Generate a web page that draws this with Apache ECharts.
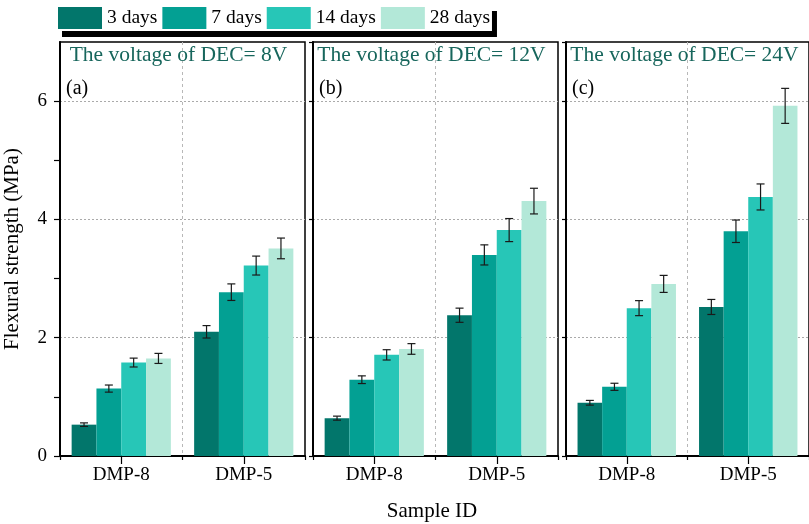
<!DOCTYPE html>
<html>
<head>
<meta charset="utf-8">
<script src="https://cdn.jsdelivr.net/npm/echarts@6/dist/echarts.min.js"></script>
<style>
  html, body { margin: 0; padding: 0; background: #fff; }
  #chart { width: 809px; height: 524px; }
</style>
</head>
<body>
<div id="chart"></div>
<script>
// Sample groups on the x axis
const categories = ['DMP-8', 'DMP-5'];
// Curing ages (one bar series each)
const ageNames = ['3 days', '7 days', '14 days', '28 days'];
const ageColors = ['#02766B', '#03A093', '#27C6B7', '#B3E8D8'];
// Panels: DEC voltage
const panelTitles = ['The voltage of DEC= 8V', 'The voltage of DEC= 12V', 'The voltage of DEC= 24V'];
const panelTags = ['(a)', '(b)', '(c)'];
const yTicks = [0, 2, 4, 6];

// Mean flexural strength (MPa), per panel: [DMP-8, DMP-5]
const mean3d  = [[0.53, 2.10], [0.64, 2.38], [0.90, 2.52]];
const mean7d  = [[1.14, 2.77], [1.29, 3.40], [1.17, 3.80]];
const mean14d = [[1.58, 3.22], [1.71, 3.82], [2.50, 4.38]];
const mean28d = [[1.65, 3.51], [1.81, 4.31], [2.91, 5.92]];

// Standard deviation (MPa), per panel: [DMP-8, DMP-5]
const err3d  = [[0.03, 0.105], [0.034, 0.12], [0.04, 0.127]];
const err7d  = [[0.06, 0.14],  [0.065, 0.17], [0.06, 0.19]];
const err14d = [[0.075, 0.16], [0.087, 0.195], [0.127, 0.22]];
const err28d = [[0.085, 0.175], [0.09, 0.217], [0.144, 0.296]];

const means = [mean3d, mean7d, mean14d, mean28d];
const errs = [err3d, err7d, err14d, err28d];

const FONT = 'Liberation Serif';
const panelLeft = [60, 313, 566];
const panelTop = 42;
const panelW = 245;
const panelH = 414;
const catGap = 0.19;
const NONE = 'rgba(0,0,0,0)';

const grids = [], xAxes = [], yAxes = [], series = [], titles = [], graphics = [];

panelLeft.forEach((left, p) => {
  grids.push({
    left: left, top: panelTop, width: panelW, height: panelH,
    show: true, borderColor: '#000', borderWidth: 1.5, backgroundColor: 'transparent'
  });
  // main category axis: labels, boundary ticks, dashed separator between groups
  xAxes.push({
    type: 'category', gridIndex: p, data: categories, position: 'bottom',
    axisLine: { lineStyle: { color: '#000', width: 2 } },
    axisTick: { show: true, length: 4, lineStyle: { color: '#000', width: 1.2 } },
    axisLabel: { color: '#000', fontFamily: FONT, fontSize: 19, margin: 10 },
    splitLine: { show: true, lineStyle: { color: [NONE, '#b8b8b8'], type: [3, 3], width: 1 } }
  });
  // centre ticks under each group
  xAxes.push({
    type: 'category', gridIndex: p, data: categories, position: 'bottom',
    axisLine: { show: false },
    axisTick: { show: true, alignWithLabel: true, length: 8, lineStyle: { color: '#000', width: 1.2 } },
    axisLabel: { show: false },
    splitLine: { show: false }
  });
  const isFirst = p === 0;
  yAxes.push({
    type: 'value', gridIndex: p, min: 0, max: 7, interval: isFirst ? 1 : 2,
    name: isFirst ? 'Flexural strength (MPa)' : '',
    nameLocation: 'middle', nameGap: 37,
    nameTextStyle: { color: '#000', fontFamily: FONT, fontSize: 21 },
    axisLine: { show: true, lineStyle: { color: '#000', width: 2 } },
    axisTick: { show: true, length: isFirst ? 6 : 4, lineStyle: { color: '#000', width: 1.2 } },
    axisLabel: {
      show: isFirst, showMaxLabel: false, color: '#000', fontFamily: FONT, fontSize: 19, margin: 13,
      formatter: v => (yTicks.indexOf(v) >= 0 ? String(v) : '')
    },
    splitLine: {
      show: true,
      lineStyle: {
        color: isFirst ? ['#aaaaaa', NONE] : ['#aaaaaa', '#aaaaaa', '#aaaaaa', '#aaaaaa', NONE],
        type: [2, 2], width: 1
      }
    }
  });

  ageNames.forEach((name, d) => {
    series.push({
      type: 'bar', name: name, xAxisIndex: p * 2, yAxisIndex: p,
      data: means[d][p],
      barGap: '0%', barCategoryGap: (catGap * 100) + '%',
      itemStyle: { color: ageColors[d] },
      emphasis: { disabled: true }
    });
  });

  // error bars drawn on top of the bars
  const errData = [];
  categories.forEach((c, ci) => {
    ageNames.forEach((n, d) => {
      errData.push([ci, means[d][p][ci], errs[d][p][ci], d]);
    });
  });
  series.push({
    type: 'custom', xAxisIndex: p * 2, yAxisIndex: p, z: 5,
    encode: { x: 0, y: 1 },
    data: errData,
    renderItem: function (params, api) {
      const ci = api.value(0), m = api.value(1), e = api.value(2), d = api.value(3);
      const c = api.coord([ci, m]);
      const band = api.size([1, 0])[0];
      const bw = band * (1 - catGap) / ageNames.length;
      const x = c[0] - band * (1 - catGap) / 2 + (d + 0.5) * bw;
      const yHi = api.coord([ci, m + e])[1];
      const yLo = api.coord([ci, m - e])[1];
      const cap = 4;
      const style = { stroke: '#1a1a1a', lineWidth: 1.2 };
      return {
        type: 'group',
        children: [
          { type: 'line', shape: { x1: x, y1: yHi, x2: x, y2: yLo }, style: style },
          { type: 'line', shape: { x1: x - cap, y1: yHi, x2: x + cap, y2: yHi }, style: style },
          { type: 'line', shape: { x1: x - cap, y1: yLo, x2: x + cap, y2: yLo }, style: style }
        ]
      };
    }
  });

  titles.push({
    text: panelTitles[p], left: left + panelW / 2 - 4, top: 44, textAlign: 'center', padding: 0,
    textStyle: { color: '#17665C', fontFamily: FONT, fontSize: 21.5, fontWeight: 'normal' }
  });
  titles.push({
    text: panelTags[p], left: left + 6, top: 79, padding: 0,
    textStyle: { color: '#000', fontFamily: FONT, fontSize: 20, fontWeight: 'normal' }
  });
});

graphics.push({
  type: 'text', x: 432, y: 511,
  style: { text: 'Sample ID', fill: '#000', font: '21px "Liberation Serif"', textAlign: 'center', textVerticalAlign: 'middle' }
});

const chart = echarts.init(document.getElementById('chart'), null, { renderer: 'canvas' });
chart.setOption({
  animation: false,
  backgroundColor: '#fff',
  title: titles,
  legend: {
    data: ageNames, left: 57, top: 5, orient: 'horizontal',
    itemWidth: 44, itemHeight: 22, itemGap: 5,
    icon: 'rect',
    padding: [2, 2, 2, 1],
    backgroundColor: '#fff',
    shadowColor: '#000', shadowBlur: 0, shadowOffsetX: 5, shadowOffsetY: 6,
    textStyle: { color: '#000', fontFamily: FONT, fontSize: 19.5 },
    selectedMode: false
  },
  grid: grids,
  xAxis: xAxes,
  yAxis: yAxes,
  series: series,
  graphic: graphics
});
</script>
</body>
</html>
